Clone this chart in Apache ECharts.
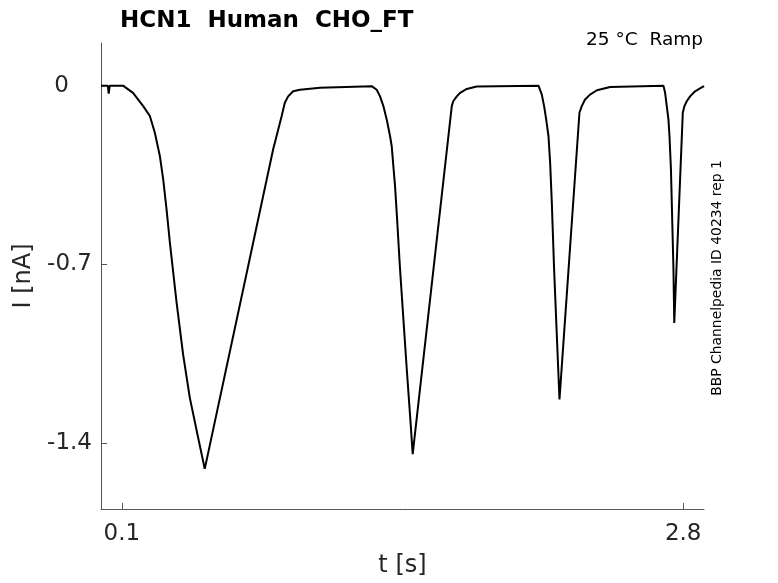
<!DOCTYPE html>
<html>
<head>
<meta charset="utf-8">
<script src="https://cdn.jsdelivr.net/npm/echarts@6/dist/echarts.min.js"></script>
<style>html,body{margin:0;padding:0;background:#fff;}#c{width:778px;height:583px;}</style>
</head>
<body>
<div id="c"></div>
<script>
// time [s]
var timeS = [0.0, 0.033, 0.037, 0.042, 0.106, 0.154, 0.203, 0.235, 0.259, 0.283, 0.299, 0.315, 0.331, 0.363, 0.395, 0.427, 0.467, 0.499,
  0.828, 0.869, 0.884, 0.900, 0.924, 0.957, 1.053, 1.302,
  1.326, 1.342, 1.358, 1.374, 1.390, 1.398, 1.406, 1.414, 1.422, 1.438, 1.454, 1.470, 1.486, 1.499,
  1.687, 1.694, 1.711, 1.727, 1.759, 1.807, 2.104,
  2.120, 2.131, 2.141, 2.152, 2.160, 2.168, 2.179, 2.192, 2.205,
  2.301, 2.312, 2.328, 2.352, 2.385, 2.449, 2.705,
  2.713, 2.721, 2.729, 2.734, 2.741, 2.745, 2.753, 2.757,
  2.798, 2.806, 2.817, 2.833, 2.857, 2.897, 2.901];
// current [nA]
var currentNA = [0.0, 0.0, -0.031, 0.0, 0.0, -0.028, -0.080, -0.119, -0.184, -0.275, -0.366, -0.482, -0.612, -0.845, -1.053, -1.221, -1.377, -1.500,
  -0.249, -0.119, -0.067, -0.042, -0.022, -0.016, -0.008, -0.002,
  -0.016, -0.042, -0.080, -0.132, -0.197, -0.236, -0.314, -0.392, -0.495, -0.716, -0.910, -1.104, -1.286, -1.442,
  -0.080, -0.061, -0.042, -0.028, -0.013, -0.003, 0.0,
  -0.035, -0.080, -0.132, -0.197, -0.301, -0.456, -0.716, -0.975, -1.228,
  -0.106, -0.080, -0.054, -0.035, -0.018, -0.005, 0.0,
  -0.028, -0.080, -0.132, -0.197, -0.327, -0.456, -0.716, -0.929,
  -0.106, -0.080, -0.061, -0.042, -0.022, -0.003, -0.003];
var xTicks = [0.1, 2.8];
var yTicks = [0, -0.7, -1.4];
var titleText = 'HCN1  Human  CHO_FT';
var condText = '25 °C  Ramp';
var sideText = 'BBP Channelpedia ID 40234 rep 1';

var pts = timeS.map(function (t, i) { return [t, currentNA[i]]; });
var chart = echarts.init(document.getElementById('c'));
var font = 'DejaVu Sans';
chart.setOption({
  animation: false,
  backgroundColor: '#fff',
  title: {
    text: titleText, left: 115, top: 5,
    textStyle: { fontFamily: font, fontWeight: 'bold', fontSize: 23, color: '#000' }
  },
  graphic: [
    { type: 'text', right: 75, top: 31, style: { text: condText, font: '18.5px "DejaVu Sans"', fill: '#000' } },
    { type: 'text', x: 717, y: 278, rotation: Math.PI / 2,
      style: { text: sideText, font: '13.9px "DejaVu Sans"', fill: '#000', align: 'center', verticalAlign: 'middle' } }
  ],
  grid: { left: 101, right: 74, top: 43, bottom: 71, containLabel: false },
  xAxis: {
    type: 'value', min: 0, max: 2.9,
    name: 't [s]', nameLocation: 'middle', nameGap: 45,
    nameTextStyle: { fontFamily: font, fontSize: 24, color: '#262626' },
    axisLine: { show: true, onZero: false, lineStyle: { color: '#555', width: 1 } },
    axisTick: { show: true, inside: true, length: 6, customValues: xTicks, lineStyle: { color: '#555' } },
    axisLabel: { customValues: xTicks, margin: 14, fontFamily: font, fontSize: 23, color: '#262626',
      formatter: function (v) { return v.toFixed(1); } },
    splitLine: { show: false }
  },
  yAxis: {
    type: 'value', min: -1.657, max: 0.167,
    name: 'I [nA]', nameLocation: 'middle', nameGap: 58, nameRotate: 90,
    nameTextStyle: { fontFamily: font, fontSize: 24, color: '#262626' },
    axisLine: { show: true, onZero: false, lineStyle: { color: '#555', width: 1 } },
    axisTick: { show: true, inside: true, length: 6, customValues: yTicks, lineStyle: { color: '#555' } },
    axisLabel: { customValues: yTicks, margin: 9, fontFamily: font, fontSize: 23, color: '#262626',
      formatter: function (v) { return v === 0 ? '{z|0}' : v.toFixed(1); },
      rich: { z: { fontFamily: font, fontSize: 23, color: '#262626', padding: [0, 23, 0, 0] } } },
    splitLine: { show: false }
  },
  series: [{
    type: 'line', data: pts, showSymbol: false, smooth: false,
    lineStyle: { color: '#000', width: 2 }
  }]
});
</script>
</body>
</html>
